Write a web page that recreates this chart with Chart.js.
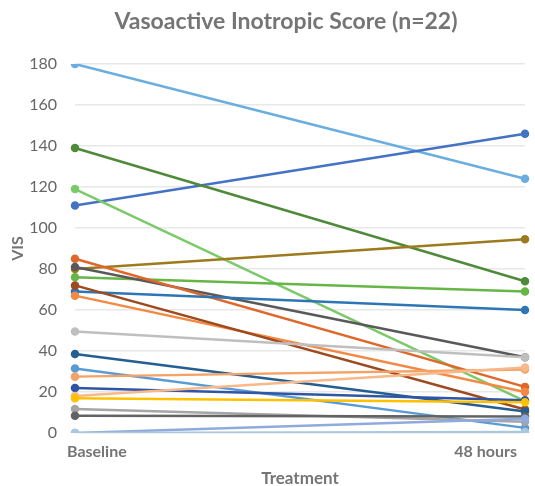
<!DOCTYPE html>
<html>
<head>
<meta charset="utf-8">
<script src="https://cdn.jsdelivr.net/npm/chart.js@4"></script>
<style>
  html, body { margin: 0; padding: 0; background: #fff; }
  #wrap { width: 535px; height: 486px; }
</style>
</head>
<body>
<div id="wrap"><canvas id="visChart"></canvas></div>
<script>
// timepoints on the x axis
const timepoints = ["Baseline", "48 hours"];

// one value per patient (n=22)
const baseline = [180, 111, 139, 119, 80, 76, 81, 85, 69, 67, 72, 49.5, 38.5, 31.5, 27.5, 22, 18, 17, 11.7, 8.4, 0, 0];
const hours48 = [124, 146, 74, 15.5, 94.5, 69, 37, 22.5, 60, 20, 11.5, 37, 10.5, 2.5, 31, 16, 32, 15, 5.5, 8, 7, 0.5];

const lineColors = [
  "#6aaee0", "#4472c4", "#4f8a3a", "#7cc96a", "#9c7a1e", "#66b547",
  "#595959", "#e0672a", "#2e75b6", "#f28a45", "#9e4a1e", "#bfbfbf",
  "#255e91", "#5b9bd5", "#f4a266", "#2f55a4", "#f7b98a", "#ffc000",
  "#a5a5a5", "#636363", "#8faadc", "#a9c8dc"
];

const yTicks = { min: 0, max: 180, step: 20 };
const chartTitle = "Vasoactive Inotropic Score (n=22)";

const chartData = {
  labels: timepoints,
  datasets: baseline.map((value, index) => {
    return {
      label: "Patient " + (index + 1),
      data: [value, hours48[index]],
      borderColor: lineColors[index],
      backgroundColor: lineColors[index],
      borderWidth: 2.5,
      pointRadius: 3,
      pointHoverRadius: 3,
    };
  }).reverse(),
};

// title sits a bit right of the canvas centre, like the original
const titlePlugin = {
  id: "offsetTitle",
  afterDraw(chart) {
    const c = chart.ctx;
    c.save();
    c.font = "bold 23px Lato";
    c.fillStyle = "#757575";
    c.textAlign = "center";
    c.textBaseline = "middle";
    c.fillText(chartTitle, 286, 22);
    c.restore();
  },
};

const ctx = document.getElementById("visChart").getContext("2d");
const visChart = new Chart(ctx, {
  type: "line",
  data: chartData,
  plugins: [titlePlugin],
  options: {
    responsive: true,
    maintainAspectRatio: false,
    animation: false,
    layout: { padding: { left: 8, right: 10, top: 64, bottom: 0 } },
    plugins: {
      legend: { display: false },
      tooltip: { enabled: false },
      title: { display: false },
    },
    scales: {
      x: {
        grid: { display: false, drawTicks: false },
        border: { display: false },
        afterFit: (scale) => { scale.height = 53; },
        ticks: {
          align: "inner",
          labelOffset: -8,
          color: "#757575",
          font: { family: "Lato", size: 16, weight: "bold" },
          padding: 9,
        },
        title: {
          display: true,
          text: "Treatment",
          color: "#757575",
          font: { family: "Lato", size: 17, weight: "bold" },
          padding: { top: 4, bottom: -3 },
        },
      },
      y: {
        min: yTicks.min,
        max: yTicks.max,
        afterFit: (scale) => { scale.width = 67; },
        grid: { color: "#e8e8e8", lineWidth: 1.5, drawTicks: false },
        border: { display: false },
        ticks: {
          stepSize: yTicks.step,
          color: "#666666",
          font: { family: "Lato", size: 16 },
          padding: 18,
        },
        title: {
          display: true,
          text: "VIS",
          color: "#757575",
          font: { family: "Lato", size: 16, weight: "bold" },
          padding: { top: 0, bottom: 4 },
        },
      },
    },
  },
});
</script>
</body>
</html>
